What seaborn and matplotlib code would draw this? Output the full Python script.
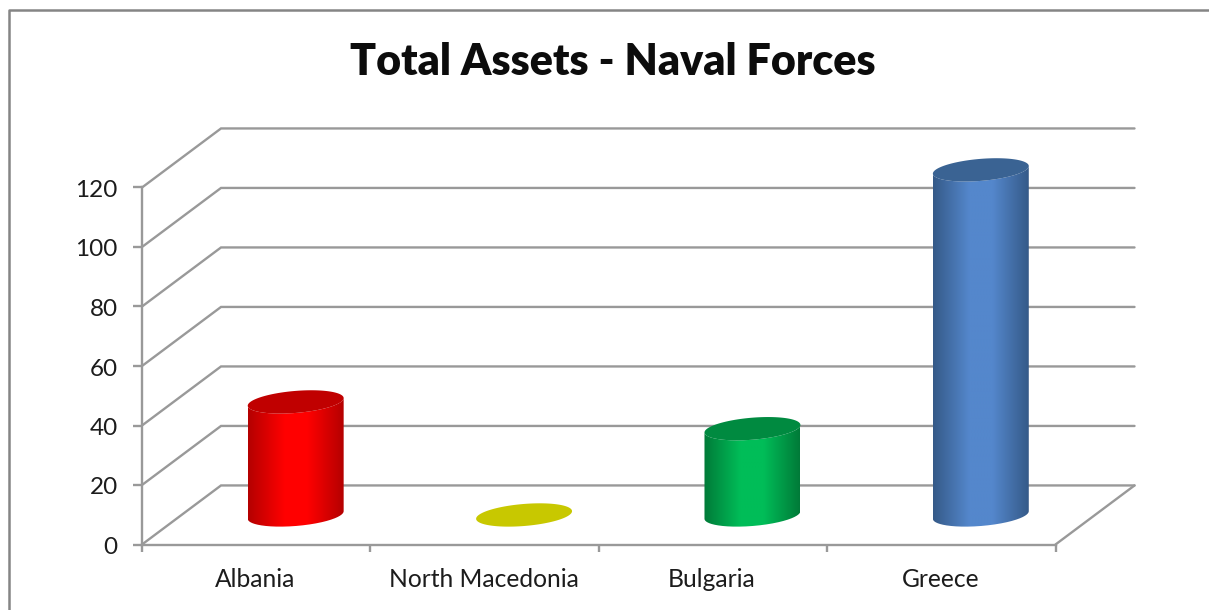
import numpy as np
import pandas as pd
import seaborn as sns
import matplotlib
matplotlib.use("Agg")
import matplotlib.pyplot as plt
from matplotlib.colors import LinearSegmentedColormap
from matplotlib.patches import Polygon
from matplotlib.path import Path
from matplotlib.lines import Line2D
from matplotlib.transforms import ScaledTranslation

# Chart data
countries = ["Albania", "North Macedonia", "Bulgaria", "Greece"]
assets = [38, 0, 29, 116]
body_colors = ["#ff0000", "#c8c800", "#00bd58", "#5487cc"]
edge_colors = ["#b40000", "#8a8a00", "#007a38", "#355a88"]
cap_colors = ["#c00000", "#c8c800", "#008a40", "#3a6393"]
y_ticks = [0, 20, 40, 60, 80, 100, 120]

GRID = "#999999"
TEXT = "#1c1c1c"
W, H = 1209, 610

sns.set_theme(style="white")
plt.rcParams["font.family"] = ["Lato", "DejaVu Sans"]

fig = plt.figure(figsize=(W / 100, H / 100), dpi=100, facecolor="white")
# The axes rectangle is the front plane of the box
left, right, top, bottom = 142.0, 1055.5, 187.5, 544.5
ax = fig.add_axes([left / W, 1 - bottom / H, (right - left) / W, (bottom - top) / H])

df = pd.DataFrame({"country": countries, "assets": assets})
sns.barplot(data=df, x="country", y="assets", hue="country", palette=body_colors,
            dodge=False, legend=False, width=0.42, saturation=1, ax=ax, zorder=3)
ax.set_xlim(-0.5, 3.5)
ax.set_ylim(0, 120)
ax.set_xlabel("")
ax.set_ylabel("")
ax.patch.set_alpha(0)

# Depth of the box, in data units
DX, DY = 0.346, 19.85
x0, x1 = -0.5, 3.5

# Back wall gridlines and the left-hand wall diagonals
for v in y_ticks:
    ax.add_line(Line2D([x0, x0 + DX, x1 + DX], [v, v + DY, v + DY], color=GRID, lw=1.7,
                       clip_on=False, zorder=1, solid_joinstyle="miter"))
ax.add_line(Line2D([x1, x1 + DX], [0, DY], color=GRID, lw=1.7, clip_on=False, zorder=1))

for name in ["top", "right"]:
    ax.spines[name].set_visible(False)
for name in ["left", "bottom"]:
    ax.spines[name].set_color(GRID)
    ax.spines[name].set_linewidth(1.7)
ax.set_yticks(y_ticks)
ax.set_xticks([-0.5, 0.5, 1.5, 2.5, 3.5])
ax.set_xticklabels([])
ax.tick_params(axis="x", length=5, width=1.7, color=GRID, bottom=True)
ax.tick_params(axis="y", length=6.5, width=1.7, color=GRID, left=True,
               labelsize=17.5, labelcolor=TEXT, pad=11)
nudge = ScaledTranslation(0, -1 / 100, fig.dpi_scale_trans)
for label in ax.get_yticklabels():
    label.set_transform(label.get_transform() + nudge)
for i, c in enumerate(countries):
    ax.annotate(c, (i, 0), xytext=(-1, -35), textcoords="offset pixels",
                ha="center", va="center", fontsize=17.7, color=TEXT)


def ellipse_points(cx, cy, half_w, depth_frac, t):
    """Circle on the floor plane of the box, seen in the oblique projection."""
    ddx, ddy = DX * depth_frac / 2, DY * depth_frac / 2
    a = np.sqrt(max(half_w ** 2 - ddx ** 2, 0))
    return cx + a * np.cos(t) + ddx * np.sin(t), cy + ddy * np.sin(t)


DEPTH_FRAC = 0.395
for patch, color, edge, cap in zip(ax.patches, body_colors, edge_colors, cap_colors):
    # Stand each bar in the middle of the box depth
    patch.set_x(patch.get_x() + DX / 2)
    patch.set_y(DY / 2)
    patch.set_clip_on(False)
    patch.set_linewidth(0)
    xl = patch.get_x()
    w = patch.get_width()
    h = patch.get_height()
    cx = xl + w / 2
    yb = patch.get_y()
    yt = yb + h

    t = np.linspace(0, 2 * np.pi, 361)
    ex, ey = ellipse_points(cx, 0, w / 2, DEPTH_FRAC, t)
    i_l, i_r = np.argmin(ex), np.argmax(ex)
    if h > 0:
        # Silhouette: down the left tangent, along the lower arc, up the right tangent
        ts = t[i_l] + np.linspace(0, (t[i_r] - t[i_l]) % (2 * np.pi), 200)
        lx, ly = ellipse_points(cx, yb, w / 2, DEPTH_FRAC, ts)
        ux, uy = ellipse_points(cx, yt, w / 2, DEPTH_FRAC, ts[::-1])
        verts = np.column_stack([np.r_[lx, ux], np.r_[ly, uy]])
        cmap = LinearSegmentedColormap.from_list(
            "shade", [(0, edge), (0.38, color), (0.62, color), (1, edge)])
        grad = np.linspace(0, 1, 256)[None, :]
        im = ax.imshow(grad, cmap=cmap, aspect="auto", zorder=4, interpolation="bilinear",
                       extent=(xl, xl + w, min(ly.min(), uy.min()), max(ly.max(), uy.max())))
        im.set_clip_box(fig.bbox)
        im.set_clip_path(Path(verts), transform=ax.transData)
        patch.set_alpha(0)
        ax.set_xlim(-0.5, 3.5)
        ax.set_ylim(0, 120)
    tx, ty = ellipse_points(cx, yt, w / 2, DEPTH_FRAC, t)
    ax.add_patch(Polygon(np.column_stack([tx, ty]), closed=True, facecolor=cap,
                         edgecolor="none", clip_on=False, zorder=5))

# Title and outer chart frame
fig.text(612.5 / W, 1 - 62 / H, "Total Assets - Naval Forces", ha="center", va="center",
         fontsize=31, fontweight="heavy", color="#0c0c0c")
fig.add_artist(Line2D([8.5 / W, 8.5 / W, 1], [0, 1 - 9.5 / H, 1 - 9.5 / H], color="#858585", lw=1.8))

fig.savefig("out.png", dpi=100, facecolor="white")
